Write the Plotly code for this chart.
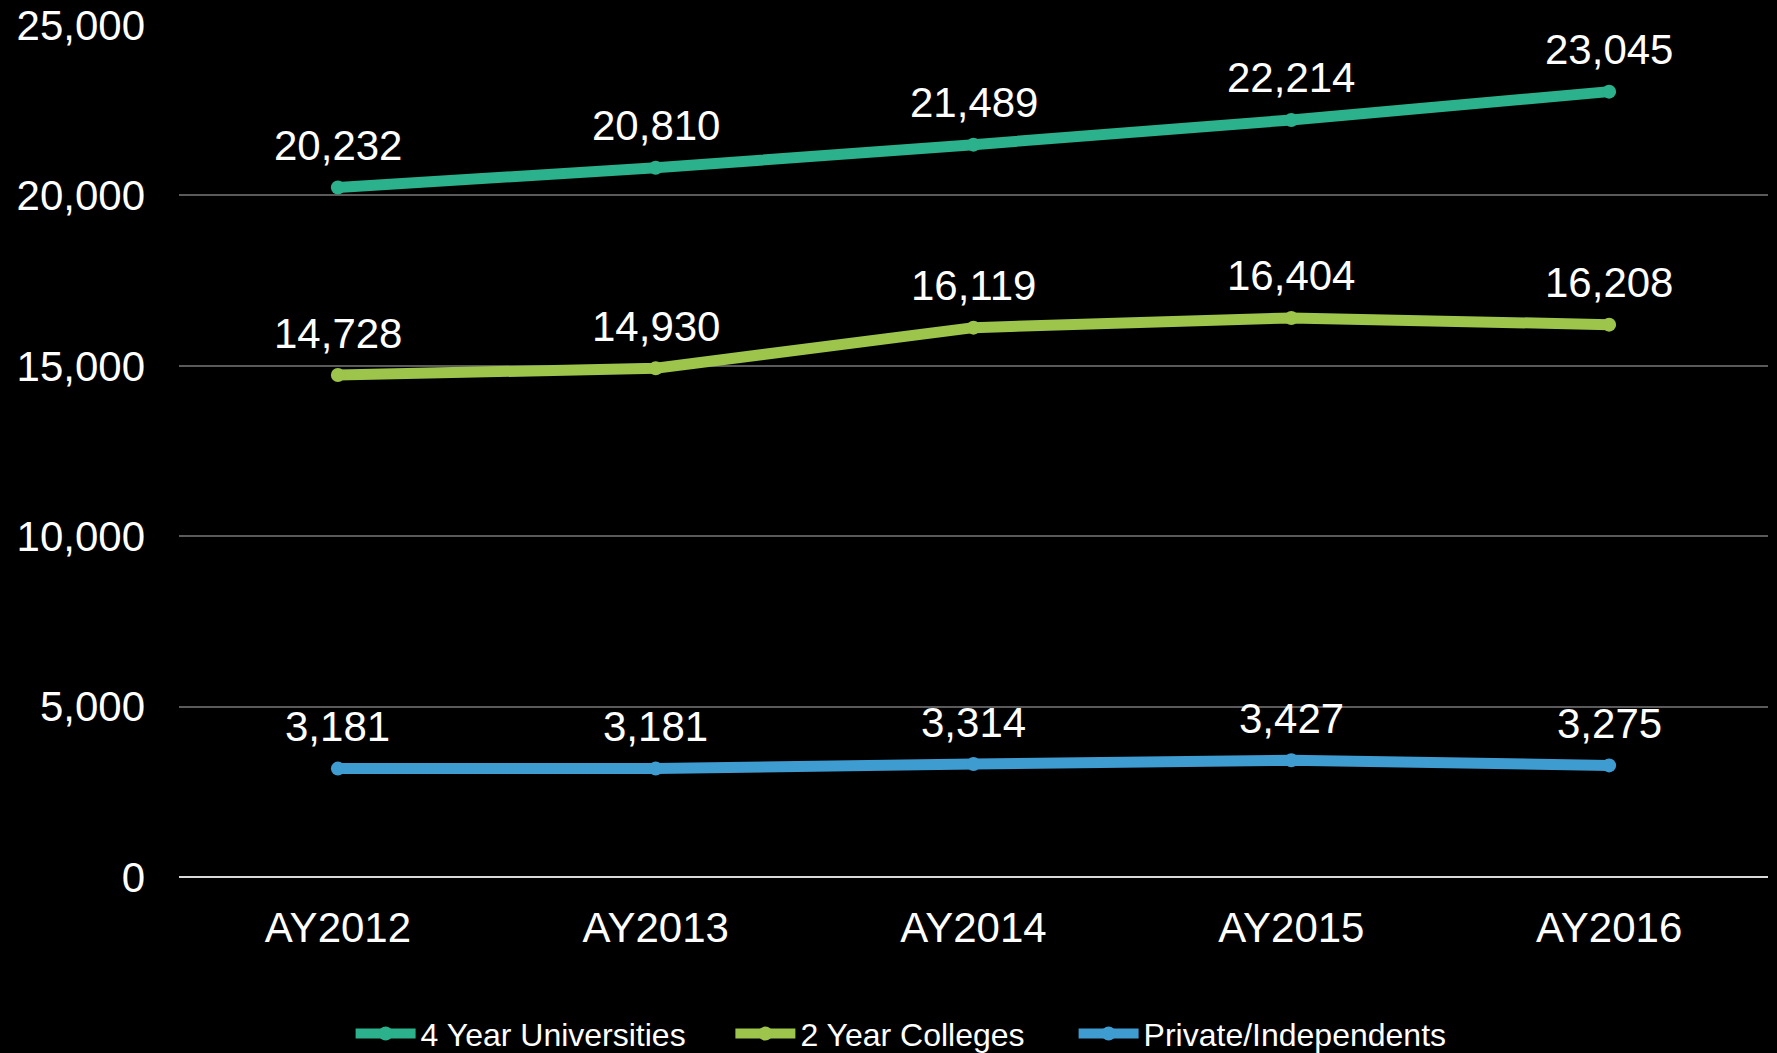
import plotly.graph_objects as go

years = ["AY2012", "AY2013", "AY2014", "AY2015", "AY2016"]
univ_4yr = [20232, 20810, 21489, 22214, 23045]
coll_2yr = [14728, 14930, 16119, 16404, 16208]
private_ind = [3181, 3181, 3314, 3427, 3275]

series = [
    ("4 Year Universities", univ_4yr, "#2BB18C"),
    ("2 Year Colleges", coll_2yr, "#9DC44B"),
    ("Private/Independents", private_ind, "#3E9CD1"),
]

FONT = "Liberation Sans, Arial, sans-serif"
legend_x = [0.108, 0.347, 0.563]   # one legend per series, placed like the original

fig = go.Figure()
layout_legends = {}
for i, (name, vals, col) in enumerate(series):
    lg = "legend" if i == 0 else f"legend{i+1}"
    fig.add_trace(go.Scatter(
        x=years, y=vals, name=name,
        mode="lines+markers",
        line=dict(color=col, width=11),
        marker=dict(color=col, size=14),
        hoverinfo="skip",
        legend=lg,
    ))
    layout_legends[lg] = dict(
        orientation="h", x=legend_x[i], xanchor="left", y=-0.184, yanchor="middle",
        font=dict(size=32, color="white", family=FONT),
        itemwidth=60, bgcolor="rgba(0,0,0,0)",
    )
    for x, v in zip(years, vals):
        fig.add_annotation(
            x=x, y=v, text=f"{v:,}", showarrow=False,
            yanchor="middle", yshift=42,
            font=dict(color="white", size=42, family=FONT),
        )

fig.update_layout(
    width=1777, height=1053,
    paper_bgcolor="black", plot_bgcolor="black",
    margin=dict(l=179, r=9, t=25, b=176, autoexpand=False),
    font=dict(family=FONT, color="white", size=42),
    showlegend=True,
    **layout_legends,
)
fig.update_xaxes(
    type="category", range=[-0.5, 4.5], showgrid=False, showline=False,
    ticks="", tickfont=dict(size=42), ticklabelstandoff=22, automargin=False,
)
fig.update_yaxes(
    range=[0, 25000], tickvals=[0, 5000, 10000, 15000, 20000, 25000],
    tickformat=",", showgrid=True, gridcolor="#5A5A5A", gridwidth=1.5,
    zeroline=True, zerolinecolor="#D9D9D9", zerolinewidth=2,
    ticks="", tickfont=dict(size=42), ticklabelstandoff=33, automargin=False,
)

fig.write_html(
    "out.html",
    config={"displayModeBar": False},
    post_script="document.body.style.margin='0';document.body.style.background='black';",
)
